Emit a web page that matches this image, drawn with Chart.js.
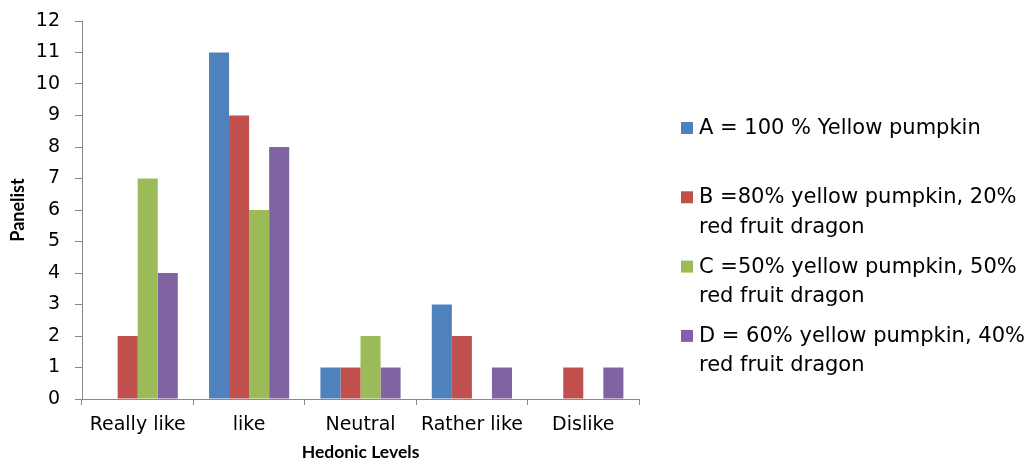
<!DOCTYPE html>
<html>
<head>
<meta charset="utf-8">
<title>Hedonic Levels</title>
<script src="https://cdn.jsdelivr.net/npm/chart.js@4/dist/chart.umd.min.js"></script>
<style>
  html, body { margin: 0; padding: 0; background: #ffffff; }
  #wrap { width: 1025px; height: 463px; position: relative; }
</style>
</head>
<body>
<div id="wrap"><canvas id="chart"></canvas></div>
<script>
// Hedonic test results: number of panelists per liking level
const categories = ['Really like', 'like', 'Neutral', 'Rather like', 'Dislike'];
const seriesA = [0, 11, 1, 3, 0];
const seriesB = [2, 9, 1, 2, 1];
const seriesC = [7, 6, 2, 0, 0];
const seriesD = [4, 8, 1, 1, 1];
const seriesNames = [
  ['A = 100 % Yellow pumpkin'],
  ['B =80% yellow pumpkin, 20%', 'red fruit dragon'],
  ['C =50% yellow pumpkin, 50%', 'red fruit dragon'],
  ['D = 60% yellow pumpkin, 40%', 'red fruit dragon']
];
const seriesColors = ['#4F81BD', '#C0504D', '#9BBB59', '#8064A2'];
const yMin = 0;
const yMax = 12;
const yStep = 1;

const axisGray = '#898989';

// Legend on the right with wrapped entries
const sideLegend = {
  id: 'sideLegend',
  afterDraw(chart, args, opts) {
    const c = chart.ctx;
    c.save();
    c.font = opts.font;
    c.textBaseline = 'alphabetic';
    c.textAlign = 'left';
    chart.data.datasets.forEach((ds, i) => {
      const base = opts.top + i * opts.step;
      c.fillStyle = ds.backgroundColor;
      c.fillRect(opts.x, base - opts.box, opts.box, opts.box);
      c.fillStyle = '#000000';
      ds.legendLines.forEach((line, j) => {
        c.fillText(line, opts.x + opts.textGap, base + j * opts.lineHeight);
      });
    });
    c.restore();
  }
};

const seriesValues = [seriesA, seriesB, seriesC, seriesD];

new Chart(document.getElementById('chart'), {
  type: 'bar',
  data: {
    labels: categories,
    datasets: seriesValues.map((vals, i) => ({
      label: seriesNames[i].join(' '),
      legendLines: seriesNames[i],
      data: vals,
      backgroundColor: seriesColors[i],
      borderWidth: 0,
      categoryPercentage: 0.72,
      barPercentage: 1.0
    }))
  },
  options: {
    responsive: true,
    maintainAspectRatio: false,
    animation: false,
    devicePixelRatio: 1,
    layout: { padding: { left: 7, right: 386, top: 21, bottom: 0 } },
    plugins: {
      legend: { display: false },
      tooltip: { enabled: false },
      sideLegend: {
        x: 681, top: 134, step: 69.3, lineHeight: 29.5, box: 12, textGap: 18,
        font: '21px "DejaVu Sans"'
      }
    },
    scales: {
      x: {
        afterFit(scale) {
          scale.height = 64;
          scale.paddingLeft = 0;
          scale.paddingRight = 0;
        },
        grid: {
          display: true, drawOnChartArea: false, drawTicks: true,
          tickLength: 6, color: axisGray, offset: true
        },
        border: { display: true, color: axisGray, width: 1 },
        ticks: {
          color: '#000000', padding: 9,
          font: { family: 'DejaVu Sans', size: 19 },
          maxRotation: 0, autoSkip: false
        },
        title: {
          display: true, text: 'Hedonic Levels', color: '#000000',
          font: { family: 'Lato', weight: 'bold', size: 17.5 },
          padding: { top: 0, bottom: 0 }
        }
      },
      y: {
        min: yMin, max: yMax,
        afterFit(scale) {
          scale.width = 75;
          scale.paddingTop = 0;
          scale.paddingBottom = 0;
        },
        grid: {
          display: true, drawOnChartArea: false, drawTicks: true,
          tickLength: 7, color: axisGray
        },
        border: { display: true, color: axisGray, width: 1 },
        ticks: {
          stepSize: yStep, color: '#000000', padding: 15,
          font: { family: 'DejaVu Sans', size: 19 }
        },
        title: {
          display: true, text: 'Panelist', color: '#000000',
          font: { family: 'Lato', weight: 'bold', size: 18 },
          padding: { top: 0, bottom: 0 }
        }
      }
    }
  },
  plugins: [sideLegend]
});
</script>
</body>
</html>
